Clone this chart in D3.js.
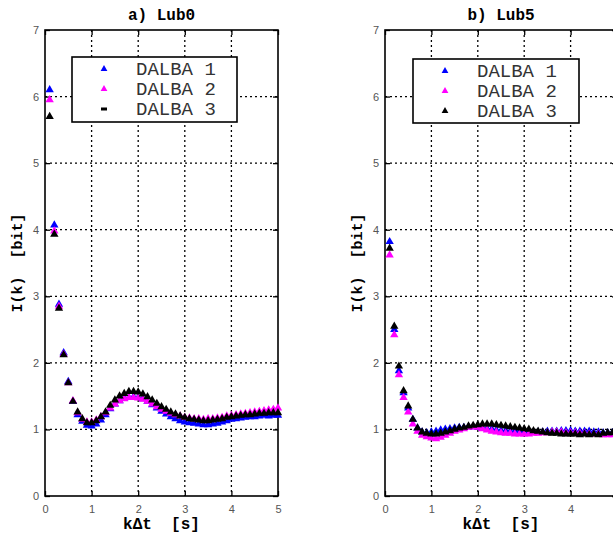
<!DOCTYPE html>
<html>
<head>
<meta charset="utf-8">
<script src="https://cdn.jsdelivr.net/npm/d3@7"></script>
<style>
  body { margin: 0; background: white; overflow: hidden; }
  svg { display: block; }
</style>
</head>
<body>
<svg width="613" height="537"></svg>
<script>
// sample times k*dt, k = 1..50, dt = 0.1 s
var kdt = d3.range(1, 51).map(function(k){ return +(k * 0.1).toFixed(1); });

var seriesNames = ["DALBA 1", "DALBA 2", "DALBA 3"];
var seriesColors = ["#0000ff", "#ff00ff", "#000000"];

var xTicks = [0, 1, 2, 3, 4, 5];
var yTicks = [0, 1, 2, 3, 4, 5, 6, 7];

// a) Lub0
var lub0_d1 = [6.10, 4.07, 2.88, 2.15, 1.72, 1.42, 1.22, 1.12, 1.06, 1.05,
               1.08, 1.14, 1.22, 1.31, 1.38, 1.43, 1.47, 1.48, 1.49, 1.48,
               1.46, 1.42, 1.37, 1.32, 1.27, 1.23, 1.19, 1.16, 1.13, 1.11,
               1.10, 1.09, 1.08, 1.07, 1.07, 1.08, 1.09, 1.11, 1.13, 1.15,
               1.16, 1.17, 1.18, 1.19, 1.19, 1.20, 1.21, 1.20, 1.21, 1.21];
var lub0_d2 = [5.95, 3.98, 2.85, 2.13, 1.70, 1.43, 1.25, 1.15, 1.11, 1.11,
               1.14, 1.19, 1.25, 1.32, 1.38, 1.43, 1.46, 1.48, 1.48, 1.47,
               1.45, 1.42, 1.38, 1.34, 1.30, 1.27, 1.24, 1.22, 1.20, 1.18,
               1.17, 1.16, 1.16, 1.15, 1.16, 1.16, 1.17, 1.18, 1.20, 1.21,
               1.22, 1.23, 1.24, 1.25, 1.26, 1.27, 1.28, 1.29, 1.30, 1.32];
var lub0_d3 = [5.70, 3.93, 2.82, 2.12, 1.70, 1.42, 1.26, 1.16, 1.10, 1.10,
               1.13, 1.19, 1.26, 1.36, 1.44, 1.50, 1.54, 1.57, 1.57, 1.56,
               1.53, 1.49, 1.44, 1.39, 1.34, 1.30, 1.26, 1.23, 1.20, 1.18,
               1.16, 1.15, 1.14, 1.13, 1.13, 1.14, 1.15, 1.16, 1.18, 1.19,
               1.20, 1.21, 1.22, 1.22, 1.23, 1.24, 1.24, 1.25, 1.25, 1.25];

// b) Lub5
var lub5_d1 = [3.82, 2.50, 1.88, 1.55, 1.32, 1.15, 1.02, 0.96, 0.95, 0.96,
               0.97, 0.99, 1.00, 1.01, 1.02, 1.03, 1.03, 1.04, 1.04, 1.03,
               1.02, 1.01, 1.00, 0.99, 0.98, 0.98, 0.97, 0.97, 0.97, 0.96,
               0.96, 0.96, 0.96, 0.96, 0.97, 0.97, 0.97, 0.98, 0.98, 0.98,
               0.97, 0.97, 0.97, 0.97, 0.96, 0.96, 0.95, 0.95, 0.95, 0.95];
var lub5_d2 = [3.62, 2.42, 1.82, 1.48, 1.26, 1.08, 0.97, 0.91, 0.89, 0.87,
               0.86, 0.88, 0.91, 0.94, 0.97, 0.99, 1.01, 1.03, 1.04, 1.03,
               1.01, 0.99, 0.97, 0.96, 0.95, 0.94, 0.94, 0.93, 0.93, 0.93,
               0.93, 0.94, 0.94, 0.95, 0.95, 0.96, 0.96, 0.96, 0.95, 0.95,
               0.95, 0.94, 0.94, 0.93, 0.93, 0.93, 0.92, 0.92, 0.92, 0.92];
var lub5_d3 = [3.72, 2.55, 1.95, 1.58, 1.35, 1.15, 1.02, 0.96, 0.94, 0.93,
               0.93, 0.94, 0.96, 0.98, 1.00, 1.02, 1.03, 1.05, 1.06, 1.07,
               1.08, 1.08, 1.08, 1.07, 1.06, 1.05, 1.04, 1.03, 1.02, 1.01,
               1.00, 0.98, 0.97, 0.96, 0.95, 0.94, 0.94, 0.93, 0.93, 0.93,
               0.93, 0.92, 0.93, 0.92, 0.93, 0.92, 0.94, 0.95, 0.95, 0.96];

var svg = d3.select("svg");
var W = +svg.attr("width");

var panels = [
    {title: "a) Lub0", left: 45, right: 278, series: [lub0_d1, lub0_d2, lub0_d3],
     legend: {x: 72, y: 57, w: 165, h: 65}, blackDash: true},
    {title: "b) Lub5", left: 385, right: 617, series: [lub5_d1, lub5_d2, lub5_d3],
     legend: {x: 413, y: 59, w: 166, h: 64}, blackDash: false}
];

var plotTop = 30, plotBottom = 496;
var mono = "'Liberation Mono', 'Courier New', monospace";
var fontTick = "'Liberation Sans', Arial, sans-serif";

panels.forEach(function(p) {
    var x = d3.scaleLinear().domain([0, 5]).range([p.left, p.right]);
    var y = d3.scaleLinear().domain([0, 7]).range([plotBottom, plotTop]);
    var g = svg.append("g");

    // dotted grid
    g.append("g").selectAll("line")
        .data(xTicks.slice(1, -1)).enter()
        .append("line")
        .attr("x1", function(d){ return x(d); }).attr("x2", function(d){ return x(d); })
        .attr("y1", plotTop).attr("y2", plotBottom)
        .style("stroke", "black").style("stroke-width", 1.3)
        .style("stroke-dasharray", "2,3");
    g.append("g").selectAll("line")
        .data(yTicks.slice(1, -1)).enter()
        .append("line")
        .attr("y1", function(d){ return y(d); }).attr("y2", function(d){ return y(d); })
        .attr("x1", p.left).attr("x2", p.right)
        .style("stroke", "black").style("stroke-width", 1.3)
        .style("stroke-dasharray", "2,3");

    // axes with inward ticks, labels on left/bottom only
    // (labels that would fall outside the page are left blank)
    var fmtX = function(d){ return x(d) > W - 4 ? "" : d3.format("d")(d); };
    var fmtY = d3.format("d");
    g.append("g").attr("transform", "translate(0," + plotBottom + ")")
        .call(d3.axisBottom(x).tickValues(xTicks).tickFormat(fmtX).tickSizeInner(-5).tickSizeOuter(0).tickPadding(9))
        .call(function(a){ a.select(".domain").remove(); });
    g.append("g").attr("transform", "translate(0," + plotTop + ")")
        .call(d3.axisTop(x).tickValues(xTicks).tickSizeInner(-5).tickSizeOuter(0).tickFormat(""))
        .call(function(a){ a.select(".domain").remove(); });
    g.append("g").attr("transform", "translate(" + p.left + ",0)")
        .call(d3.axisLeft(y).tickValues(yTicks).tickFormat(fmtY).tickSizeInner(-5).tickSizeOuter(0).tickPadding(6))
        .call(function(a){ a.select(".domain").remove(); });
    g.append("g").attr("transform", "translate(" + p.right + ",0)")
        .call(d3.axisRight(y).tickValues(yTicks).tickSizeInner(-5).tickSizeOuter(0).tickFormat(""))
        .call(function(a){ a.select(".domain").remove(); });
    g.selectAll(".tick line").style("stroke", "black").style("stroke-width", 1.3);
    g.selectAll(".tick text")
        .style("font-family", fontTick).style("font-size", "11px").style("fill", "#555");

    // frame
    g.append("rect")
        .attr("x", p.left).attr("y", plotTop)
        .attr("width", p.right - p.left).attr("height", plotBottom - plotTop)
        .style("fill", "none").style("stroke", "black").style("stroke-width", 1.6);

    // data points
    var tri = d3.symbol().type(d3.symbolTriangle).size(30);
    p.series.forEach(function(vals, i) {
        g.append("g").selectAll("path")
            .data(vals).enter()
            .append("path")
            .attr("d", tri)
            .attr("transform", function(d, j){ return "translate(" + x(kdt[j]) + "," + y(d) + ")"; })
            .style("fill", seriesColors[i]);
    });

    // title + labels
    g.append("text")
        .attr("x", (p.left + p.right) / 2).attr("y", 20)
        .attr("text-anchor", "middle")
        .style("font-family", mono).style("font-weight", "bold").style("font-size", "16px")
        .text(p.title);
    g.append("text")
        .attr("x", (p.left + p.right) / 2).attr("y", 529)
        .attr("text-anchor", "middle")
        .style("font-family", mono).style("font-weight", "bold").style("font-size", "16px")
        .style("white-space", "pre")
        .text("k\u0394t  [s]");
    g.append("text")
        .attr("transform", "translate(" + (p.left - 23) + "," + ((plotTop + plotBottom) / 2) + ") rotate(-90)")
        .attr("text-anchor", "middle")
        .style("font-family", mono).style("font-weight", "bold").style("font-size", "15px")
        .style("white-space", "pre")
        .text("I(k)  [bit]");

    // legend
    var L = p.legend;
    var ltri = d3.symbol().type(d3.symbolTriangle).size(20);
    var lg = g.append("g");
    lg.append("rect")
        .attr("x", L.x).attr("y", L.y).attr("width", L.w).attr("height", L.h)
        .style("fill", "white").style("stroke", "black").style("stroke-width", 1.6);
    seriesNames.forEach(function(name, i) {
        var cy = L.y + 12 + i * 20;
        if (p.blackDash && i == 2) {
            lg.append("rect").attr("x", L.x + 29).attr("y", cy - 1.5)
                .attr("width", 6).attr("height", 3).style("fill", seriesColors[i]);
        } else {
            lg.append("path").attr("d", ltri)
                .attr("transform", "translate(" + (L.x + 32) + "," + cy + ")")
                .style("fill", seriesColors[i]);
        }
        lg.append("text")
            .attr("x", L.x + 64).attr("y", cy + 6)
            .style("font-family", mono).style("font-size", "19px").style("fill", "#333")
            .text(name);
    });
});
</script>
</body>
</html>
